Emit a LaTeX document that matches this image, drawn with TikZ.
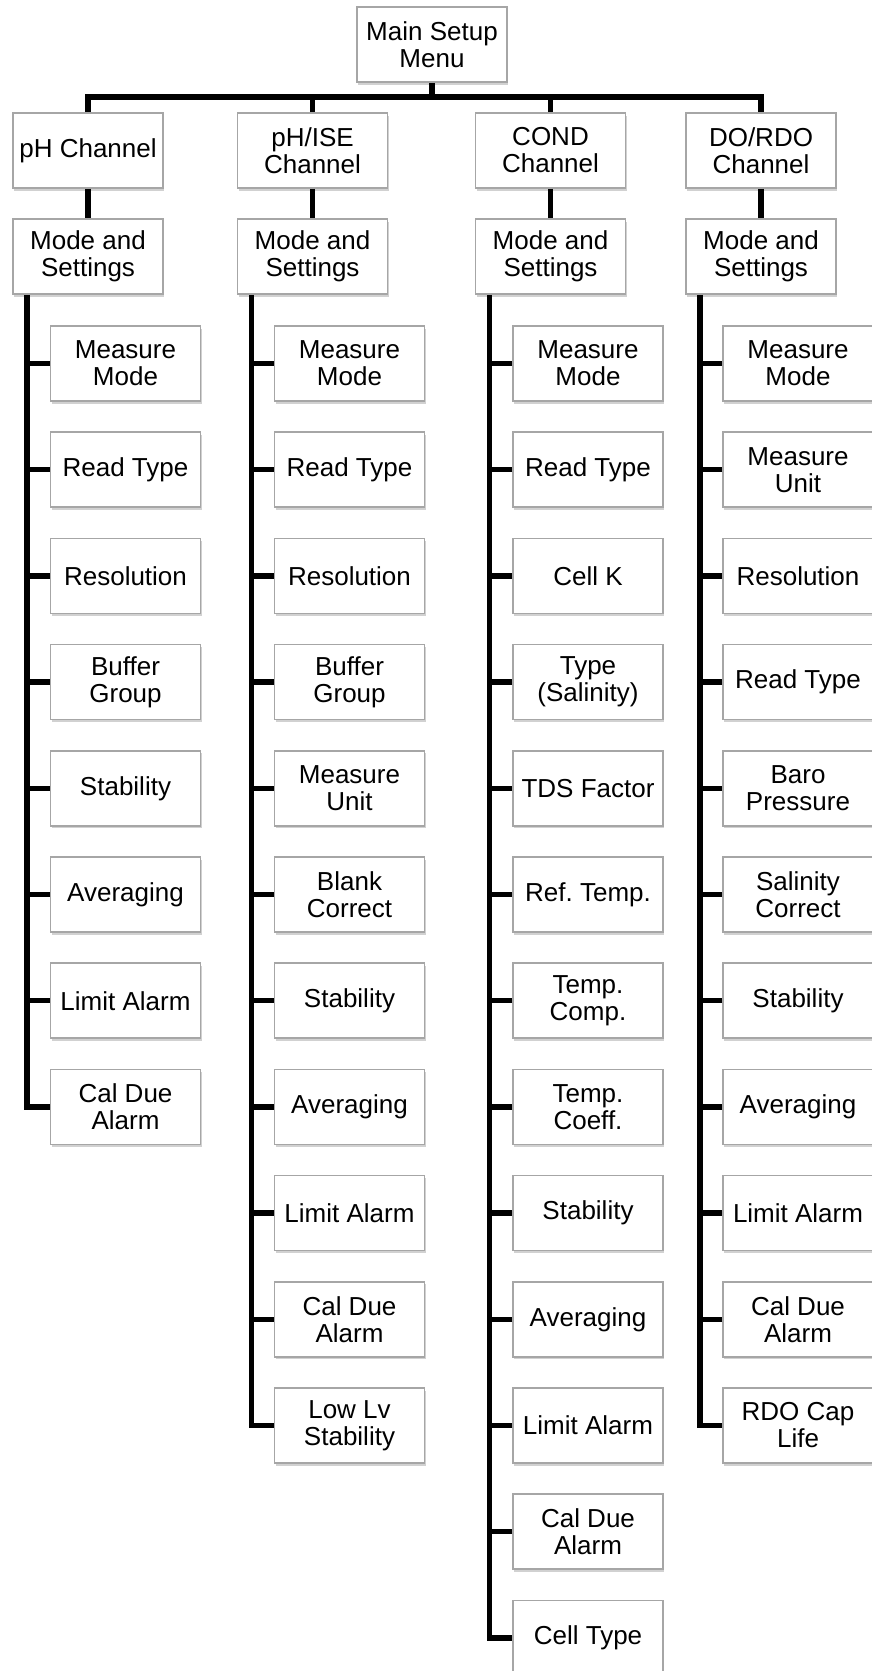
\documentclass[tikz,border=0pt]{standalone}
\usepackage{fontspec}
\setmainfont{Liberation Sans}
\usepackage{tikz}
\usetikzlibrary{shadows}
\frenchspacing

\begin{document}
\begin{tikzpicture}[
  box/.style={draw=black!35, line width=1.6pt, fill=white, minimum width=150pt, minimum height=75pt,
    inner sep=1pt, align=center, font=\fontsize{26}{27}\selectfont,
    drop shadow={shadow xshift=1pt, shadow yshift=-2.5pt, fill=black!40, opacity=0.45}},
  conn/.style={line width=5.5pt, black},
  x=1pt,y=-1pt
]
\useasboundingbox (0,0) rectangle (872,1671);
\node[box] (main) at (432,44.5) {Main Setup\\Menu};
\node[box] (ph) at (88,150.5) {pH Channel};
\node[box] (ise) at (312.5,150.5) {pH/ISE\\Channel};
\node[box] (cond) at (550.5,150.5) {COND\\Channel};
\node[box] (dox) at (761,150.5) {DO/RDO\\Channel};
\node[box] (phm) at (88,256.5) {Mode and\\Settings};
\node[box] (isem) at (312.5,256.5) {Mode and\\Settings};
\node[box] (condm) at (550.5,256.5) {Mode and\\Settings};
\node[box] (dom) at (761,256.5) {Mode and\\Settings};

\node[box] (ph1) at (125.5,363.5) {Measure\\Mode};
\node[box] (ph2) at (125.5,469.7) {Read Type};
\node[box] (ph3) at (125.5,575.9) {Resolution};
\node[box] (ph4) at (125.5,682.1) {Buffer\\Group};
\node[box] (ph5) at (125.5,788.3) {Stability};
\node[box] (ph6) at (125.5,894.5) {Averaging};
\node[box] (ph7) at (125.5,1000.7) {Limit Alarm};
\node[box] (ph8) at (125.5,1106.9) {Cal Due\\Alarm};

\node[box] (ise1) at (349.5,363.5) {Measure\\Mode};
\node[box] (ise2) at (349.5,469.7) {Read Type};
\node[box] (ise3) at (349.5,575.9) {Resolution};
\node[box] (ise4) at (349.5,682.1) {Buffer\\Group};
\node[box] (ise5) at (349.5,788.3) {Measure\\Unit};
\node[box] (ise6) at (349.5,894.5) {Blank\\Correct};
\node[box] (ise7) at (349.5,1000.7) {Stability};
\node[box] (ise8) at (349.5,1106.9) {Averaging};
\node[box] (ise9) at (349.5,1213.1) {Limit Alarm};
\node[box] (ise10) at (349.5,1319.3) {Cal Due\\Alarm};
\node[box] (ise11) at (349.5,1425.5) {Low Lv\\Stability};

\node[box] (cond1) at (588,363.5) {Measure\\Mode};
\node[box] (cond2) at (588,469.7) {Read Type};
\node[box] (cond3) at (588,575.9) {Cell K};
\node[box] (cond4) at (588,682.1) {Type\\(Salinity)};
\node[box] (cond5) at (588,788.3) {TDS Factor};
\node[box] (cond6) at (588,894.5) {Ref. Temp.};
\node[box] (cond7) at (588,1000.7) {Temp.\\Comp.};
\node[box] (cond8) at (588,1106.9) {Temp.\\Coeff.};
\node[box] (cond9) at (588,1213.1) {Stability};
\node[box] (cond10) at (588,1319.3) {Averaging};
\node[box] (cond11) at (588,1425.5) {Limit Alarm};
\node[box] (cond12) at (588,1531.7) {Cal Due\\Alarm};
\node[box] (cond13) at (588,1637.9) {Cell Type};

\node[box] (do1) at (798,363.5) {Measure\\Mode};
\node[box] (do2) at (798,469.7) {Measure\\Unit};
\node[box] (do3) at (798,575.9) {Resolution};
\node[box] (do4) at (798,682.1) {Read Type};
\node[box] (do5) at (798,788.3) {Baro\\Pressure};
\node[box] (do6) at (798,894.5) {Salinity\\Correct};
\node[box] (do7) at (798,1000.7) {Stability};
\node[box] (do8) at (798,1106.9) {Averaging};
\node[box] (do9) at (798,1213.1) {Limit Alarm};
\node[box] (do10) at (798,1319.3) {Cal Due\\Alarm};
\node[box] (do11) at (798,1425.5) {RDO Cap\\Life};

\coordinate (bus) at (432,97);
\draw[conn] (main.south) -- (bus);
\draw[conn] (ph.north) |- (bus) -| (dox.north);
\draw[conn] (ise.north) -- (ise.north |- bus);
\draw[conn] (cond.north) -- (cond.north |- bus);
\draw[conn] (ph) -- (phm);
\draw[conn] (ise) -- (isem);
\draw[conn] (cond) -- (condm);
\draw[conn] (dox) -- (dom);

\coordinate (pht) at ([xshift=15pt]phm.south west);
\coordinate (iset) at ([xshift=15pt]isem.south west);
\coordinate (condt) at ([xshift=15pt]condm.south west);
\coordinate (dot) at ([xshift=15pt]dom.south west);
\draw[conn] (pht) |- (ph8.west);
\draw[conn] (iset) |- (ise11.west);
\draw[conn] (condt) |- (cond13.west);
\draw[conn] (dot) |- (do11.west);

\draw[conn] (ph1.west) -- (ph1.west -| pht);
\draw[conn] (ph2.west) -- (ph2.west -| pht);
\draw[conn] (ph3.west) -- (ph3.west -| pht);
\draw[conn] (ph4.west) -- (ph4.west -| pht);
\draw[conn] (ph5.west) -- (ph5.west -| pht);
\draw[conn] (ph6.west) -- (ph6.west -| pht);
\draw[conn] (ph7.west) -- (ph7.west -| pht);

\draw[conn] (ise1.west) -- (ise1.west -| iset);
\draw[conn] (ise2.west) -- (ise2.west -| iset);
\draw[conn] (ise3.west) -- (ise3.west -| iset);
\draw[conn] (ise4.west) -- (ise4.west -| iset);
\draw[conn] (ise5.west) -- (ise5.west -| iset);
\draw[conn] (ise6.west) -- (ise6.west -| iset);
\draw[conn] (ise7.west) -- (ise7.west -| iset);
\draw[conn] (ise8.west) -- (ise8.west -| iset);
\draw[conn] (ise9.west) -- (ise9.west -| iset);
\draw[conn] (ise10.west) -- (ise10.west -| iset);

\draw[conn] (cond1.west) -- (cond1.west -| condt);
\draw[conn] (cond2.west) -- (cond2.west -| condt);
\draw[conn] (cond3.west) -- (cond3.west -| condt);
\draw[conn] (cond4.west) -- (cond4.west -| condt);
\draw[conn] (cond5.west) -- (cond5.west -| condt);
\draw[conn] (cond6.west) -- (cond6.west -| condt);
\draw[conn] (cond7.west) -- (cond7.west -| condt);
\draw[conn] (cond8.west) -- (cond8.west -| condt);
\draw[conn] (cond9.west) -- (cond9.west -| condt);
\draw[conn] (cond10.west) -- (cond10.west -| condt);
\draw[conn] (cond11.west) -- (cond11.west -| condt);
\draw[conn] (cond12.west) -- (cond12.west -| condt);

\draw[conn] (do1.west) -- (do1.west -| dot);
\draw[conn] (do2.west) -- (do2.west -| dot);
\draw[conn] (do3.west) -- (do3.west -| dot);
\draw[conn] (do4.west) -- (do4.west -| dot);
\draw[conn] (do5.west) -- (do5.west -| dot);
\draw[conn] (do6.west) -- (do6.west -| dot);
\draw[conn] (do7.west) -- (do7.west -| dot);
\draw[conn] (do8.west) -- (do8.west -| dot);
\draw[conn] (do9.west) -- (do9.west -| dot);
\draw[conn] (do10.west) -- (do10.west -| dot);
\end{tikzpicture}
\end{document}
